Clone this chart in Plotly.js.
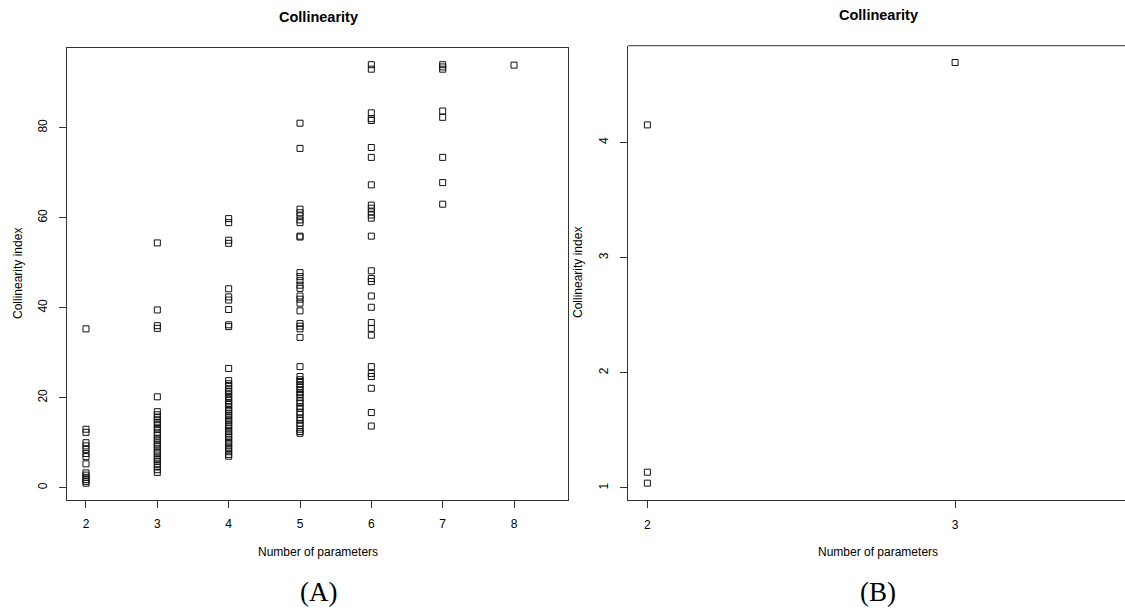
<!DOCTYPE html>
<html>
<head>
<meta charset="utf-8">
<script src="https://cdn.plot.ly/plotly-3.0.1.min.js"></script>
<style>
  html, body { margin: 0; padding: 0; background: #fff; }
  #chart { width: 1125px; height: 612px; }
</style>
</head>
<body>
<div id="chart"></div>
<script>
// Panel A: collinearity index of every parameter subset, grouped by subset size
const paramCountsA = [2, 3, 4, 5, 6, 7, 8];
const collinA_2 = [35.3, 13.0, 12.3, 10.0, 9.3, 8.5, 7.6, 6.9, 5.3, 3.3, 2.8, 2.3, 1.8, 1.4, 1.0];
const collinA_3 = [54.4, 39.5, 36.0, 35.4, 20.2, 16.9, 16.2, 15.7, 15.1, 14.5, 14.0, 13.3, 12.9,
                   12.2, 11.7, 11.0, 10.6, 10.0, 9.5, 9.1, 8.4, 7.9, 7.5, 6.8, 6.3, 5.8, 5.1, 4.6,
                   4.0, 3.4];
const collinA_4 = [59.8, 58.9, 55.0, 54.3, 44.2, 42.4, 41.7, 39.6, 36.2, 35.8, 26.5, 23.8, 23.1,
                   22.7, 22.0, 21.4, 21.0, 20.3, 19.9, 19.4, 18.8, 18.5, 17.9, 17.3, 17.0, 16.4,
                   16.0, 15.5, 15.0, 14.6, 14.0, 13.7, 13.1, 12.5, 12.1, 11.5, 11.2, 10.6, 10.0,
                   9.7, 9.0, 8.6, 8.0, 7.4, 7.0];
const collinA_5 = [81.0, 75.4, 61.9, 61.1, 60.4, 59.5, 58.9, 55.9, 55.7, 47.8, 46.9, 46.0, 45.0,
                   44.3, 42.6, 41.9, 41.0, 39.3, 36.5, 35.9, 35.3, 33.4, 26.9, 24.7, 24.0, 23.6,
                   22.9, 22.4, 21.8, 21.1, 20.7, 20.0, 19.3, 18.8, 18.0, 17.6, 16.8, 16.3, 15.5,
                   15.0, 14.3, 13.8, 13.0, 12.5, 12.1];
const collinA_6 = [94.0, 93.0, 83.3, 82.0, 81.6, 75.6, 73.4, 67.3, 62.8, 62.1, 61.3, 60.6, 59.9,
                   55.9, 48.2, 46.5, 45.8, 42.6, 40.1, 36.7, 35.4, 33.9, 26.9, 25.4, 24.7, 22.1,
                   16.7, 13.7];
const collinA_7 = [94.0, 93.5, 93.0, 83.7, 82.3, 73.4, 67.8, 63.0];
const collinA_8 = [93.9];

// Panel B: the same index for a second model
const paramCountsB = [2, 3];
const collinB_2 = [4.153, 1.136, 1.041];
const collinB_3 = [4.695];

const yTicksA = [0, 20, 40, 60, 80];
const yTicksB = [1, 2, 3, 4];

const groupsA = [collinA_2, collinA_3, collinA_4, collinA_5, collinA_6, collinA_7, collinA_8];
const groupsB = [collinB_2, collinB_3];

function flatten(counts, groups) {
  const xs = [], ys = [];
  groups.forEach((g, i) => g.forEach(v => { xs.push(counts[i]); ys.push(v); }));
  return { xs, ys };
}
const A = flatten(paramCountsA, groupsA);
const B = flatten(paramCountsB, groupsB);

const sans = 'Liberation Sans, Arial, Helvetica, sans-serif';
const serif = 'Liberation Serif, DejaVu Serif, serif';
const lineCol = '#333333';
const marker = { symbol: 'square-open', size: 6, color: '#111111', line: { width: 1, color: '#111111' } };

const traces = [
  { type: 'scatter', mode: 'markers', x: A.xs, y: A.ys, xaxis: 'x', yaxis: 'y', marker: marker, hoverinfo: 'x+y' },
  { type: 'scatter', mode: 'markers', x: B.xs, y: B.ys, xaxis: 'x2', yaxis: 'y2', marker: marker, hoverinfo: 'x+y' }
];

function axisBase() {
  return {
    showgrid: false, zeroline: false, showline: true, mirror: true,
    linecolor: lineCol, linewidth: 1,
    ticks: 'outside', ticklen: 7, tickwidth: 1, tickcolor: lineCol,
    tickfont: { family: sans, size: 12, color: '#000' },
    automargin: false, fixedrange: true
  };
}

const W = 1125, H = 612;
const xA = Object.assign(axisBase(), {
  domain: [67.3 / W, 568.3 / W], range: [1.738, 8.761],
  tickmode: 'array', tickvals: paramCountsA, ticklabelstandoff: 6, anchor: 'y'
});
const yA = Object.assign(axisBase(), {
  domain: [1 - 500 / H, 1 - 48.3 / H], range: [-2.73, 97.64],
  tickmode: 'array', tickvals: yTicksA, tickangle: -90, ticklabelstandoff: 8, anchor: 'x'
});
const xB = Object.assign(axisBase(), {
  domain: [628.3 / W, 1], range: [1.938, 3.552],
  tickmode: 'array', tickvals: paramCountsB, ticklabelstandoff: 6, anchor: 'y2',
  mirror: false
});
const yB = Object.assign(axisBase(), {
  domain: [1 - 500.3 / H, 1 - 45.7 / H], range: [0.892, 4.841],
  tickmode: 'array', tickvals: yTicksB, tickangle: -90, ticklabelstandoff: 8, anchor: 'x2',
  mirror: false
});

function txt(text, x, y, opts) {
  return Object.assign({
    text: text, x: x / W, y: 1 - y / H, xref: 'paper', yref: 'paper',
    showarrow: false, xanchor: 'center', yanchor: 'middle',
    font: { family: sans, size: 12, color: '#000' }
  }, opts || {});
}

const annotations = [
  txt('<b>Collinearity</b>', 318, 17, { font: { family: sans, size: 14.5, color: '#000' } }),
  txt('<b>Collinearity</b>', 878, 15, { font: { family: sans, size: 14.5, color: '#000' } }),
  txt('Number of parameters', 318, 552),
  txt('Number of parameters', 878, 552),
  txt('Collinearity index', 18, 274, { textangle: -90 }),
  txt('Collinearity index', 578, 273, { textangle: -90 }),
  txt('(A)', 318, 592, { font: { family: serif, size: 27, color: '#000' } }),
  txt('(B)', 878, 592, { font: { family: serif, size: 27, color: '#000' } })
];

// top edge of panel B's frame (its right edge lies past the page)
const shapes = [
  { type: 'line', xref: 'x2 domain', yref: 'y2 domain', x0: 0, x1: 1, y0: 1, y1: 1,
    line: { color: lineCol, width: 1 } }
];

const layout = {
  width: W, height: H,
  margin: { l: 0, r: 0, t: 0, b: 0 },
  paper_bgcolor: '#fff', plot_bgcolor: '#fff',
  showlegend: false,
  xaxis: xA, yaxis: yA, xaxis2: xB, yaxis2: yB,
  annotations: annotations, shapes: shapes
};

Plotly.newPlot('chart', traces, layout, { displayModeBar: false, staticPlot: true });
</script>
</body>
</html>
